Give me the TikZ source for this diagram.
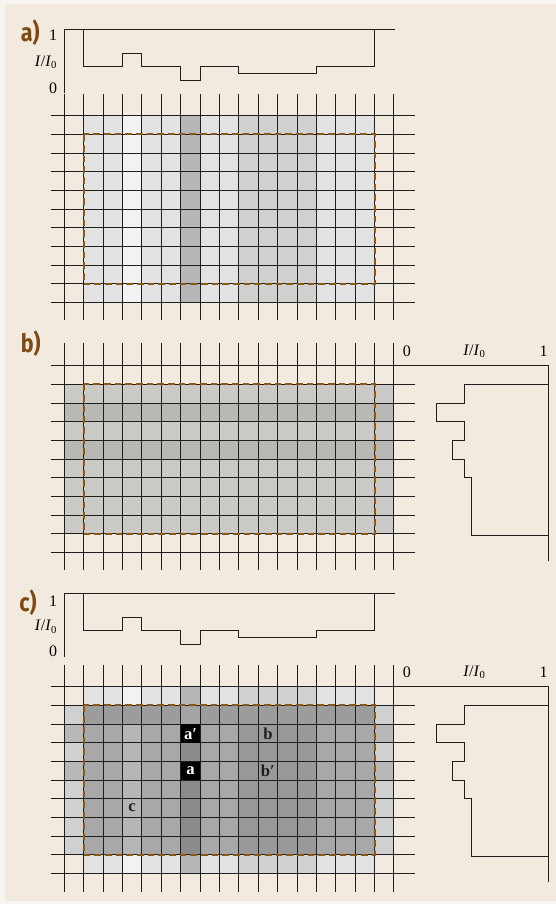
\documentclass[tikz,border=0pt]{standalone}
\usepackage{fontspec}
\setmainfont{Liberation Serif}
\newfontfamily\panelfont{Fira Sans}
\definecolor{paper}{HTML}{F2EADE}
\definecolor{rim}{HTML}{F8F5F0}
\definecolor{ink}{HTML}{1E1E1E}
\definecolor{rust}{HTML}{7D4A12}
\definecolor{dashbrown}{HTML}{8A5714}
% column absorption shades (panel a, top/bottom rows of c)
\definecolor{cE}{HTML}{E2E2E2}
\definecolor{cF}{HTML}{F2F2F2}
\definecolor{cB}{HTML}{B7B7B7}
\definecolor{cD}{HTML}{D0D1CF}
% row absorption shades (panel b)
\definecolor{bL}{HTML}{CBCAC7}
\definecolor{bD}{HTML}{B9B8B5}
% edge columns of panel c
\definecolor{eL}{HTML}{CFD1D0}
\definecolor{eD}{HTML}{B8B8B8}
% interior of panel c
\definecolor{iT}{HTML}{9B9C9B}
\definecolor{iE}{HTML}{A8A8A8}
\definecolor{iF}{HTML}{B5B5B5}
\definecolor{iB}{HTML}{8B8B8B}
\definecolor{iD}{HTML}{999999}
\begin{document}
\begin{tikzpicture}[x=0.75pt,y=-0.75pt,
  gridline/.style={draw=ink,line width=0.7pt},
  axisline/.style={draw=ink,line width=0.9pt},
  profline/.style={draw=ink,line width=0.75pt},
  dashframe/.style={draw=dashbrown,line width=1.5pt,dash pattern=on 5pt off 3pt},
  panel/.style={text=rust,font=\panelfont\bfseries\fontsize{19}{19}\selectfont,inner sep=0pt},
  axlabel/.style={font=\fontsize{12}{14}\selectfont,inner sep=0pt},
  celllabel/.style={font=\fontsize{12.5}{14}\selectfont\bfseries,inner sep=0pt,text=ink},
  blackcell/.style={fill=black,text=white,font=\fontsize{12.5}{14}\selectfont\bfseries,
    minimum width=19.39*0.75pt,minimum height=18.66*0.75pt,inner sep=0pt}]
\def\X#1{(64.3+19.39*(#1))}
% page
\fill[rim] (0,0) rectangle (556,904);
\fill[paper] (5,4) rectangle (556,901);
\useasboundingbox (0,0) rectangle (556,904);

% ---------------- panel a ----------------
\foreach \k/\c in {1/cE,2/cE,3/cF,4/cE,5/cE,6/cB,7/cE,8/cE,9/cD,10/cD,11/cD,12/cD,13/cE,14/cE,15/cE}
  \fill[\c] ({\X{\k}},115.7) rectangle ({\X{\k+1}},302.3);
\foreach \k in {0,...,17}
  \draw[gridline] ({\X{\k}},94) -- ({\X{\k}},320);
\foreach \j in {0,...,10}
  \draw[gridline] (50.7,{115.7+18.66*\j}) -- (415,{115.7+18.66*\j});
\draw[dashframe] ({\X{1}},{115.7+18.66}) rectangle ({\X{16}},{115.7+18.66*9});
% profile above a
\draw[axisline] (395,29.3) -- (64.3,29.3) -- (64.3,93.3);
\draw[profline] ({\X{1}},29.3) |- ({\X{3}},66) |- ({\X{4}},53.3) |- ({\X{6}},66)
  |- ({\X{7}},80.7) |- ({\X{9}},66) |- ({\X{13}},73.3) |- ({\X{16}},66) -- ({\X{16}},29.3);
\node[axlabel,anchor=base east] (a1) at (57.5,40.5) {1};
\node[axlabel,anchor=base east] (aI) at (57.5,66.5) {\textit{I}/\textit{I}\textsubscript{0}};
\node[axlabel,anchor=base east] (a0) at (57.5,93) {0};
\node[panel] (pa) at (30.3,32.5) {\scalebox{0.85}[1]{a)}};

% ---------------- panel b ----------------
\foreach \j/\c in {1/bL,2/bD,3/bL,4/bD,5/bL,6/bL,7/bL,8/bL}
  \fill[\c] ({\X{0}},{365.7+18.66*\j}) rectangle ({\X{17}},{365.7+18.66*(\j+1)});
\foreach \k in {0,...,17}
  \draw[gridline] ({\X{\k}},343.3) -- ({\X{\k}},570);
\foreach \j in {0,...,10}
  \draw[gridline] (50.7,{365.7+18.66*\j}) -- (415,{365.7+18.66*\j});
\draw[dashframe] ({\X{1}},{365.7+18.66}) rectangle ({\X{16}},{365.7+18.66*9});
% profile beside b
\draw[axisline] (404,365.7) -- (548.5,365.7) -- (548.5,560.7);
\draw[profline] (548.5,{365.7+18.66}) -| (464,{365.7+18.66*2}) -| (436.7,{365.7+18.66*3})
  -| (464,{365.7+18.66*4}) -| (452.7,{365.7+18.66*5}) -| (464,{365.7+18.66*6})
  -| (471.7,535.5) -- (548.5,535.5);
\node[axlabel,anchor=base west] (b0) at (402.5,356.5) {0};
\node[axlabel,anchor=base west] (bI) at (463,355.5) {\textit{I}/\textit{I}\textsubscript{0}};
\node[axlabel,anchor=base east] (b1) at (548,356.5) {1};
\node[panel] (pb) at (30.8,343.3) {\scalebox{0.85}[1]{b)}};

% ---------------- panel c ----------------
% top and bottom rows: column shades only
\foreach \k/\c in {1/cE,2/cE,3/cF,4/cE,5/cE,6/cB,7/cE,8/cE,9/cD,10/cD,11/cD,12/cD,13/cE,14/cE,15/cE}{
  \fill[\c] ({\X{\k}},686.7) rectangle ({\X{\k+1}},{686.7+18.66});
  \fill[\c] ({\X{\k}},{686.7+18.66*9}) rectangle ({\X{\k+1}},{686.7+18.66*10});
}
% edge columns: row shades only
\foreach \j/\c in {1/eL,2/eD,3/eL,4/eD,5/eL,6/eL,7/eL,8/eL}{
  \fill[\c] ({\X{0}},{686.7+18.66*\j}) rectangle ({\X{1}},{686.7+18.66*(\j+1)});
  \fill[\c] ({\X{16}},{686.7+18.66*\j}) rectangle ({\X{17}},{686.7+18.66*(\j+1)});
}
% interior
\fill[iT] ({\X{1}},{686.7+18.66}) rectangle ({\X{16}},{686.7+18.66*2});
\fill[iE!70!iT] ({\X{6}},{686.7+18.66}) rectangle ({\X{7}},{686.7+18.66*2});
\foreach \k/\c in {1/iE,2/iE,3/iF,4/iE,5/iE,6/iB,7/iE,8/iE,9/iD,10/iD,11/iD,12/iD,13/iE,14/iE,15/iE}
  \fill[\c] ({\X{\k}},{686.7+18.66*2}) rectangle ({\X{\k+1}},{686.7+18.66*9});
\foreach \k in {0,...,17}
  \draw[gridline] ({\X{\k}},665) -- ({\X{\k}},891.7);
\foreach \j in {0,...,10}
  \draw[gridline] (50.7,{686.7+18.66*\j}) -- (415,{686.7+18.66*\j});
\node[blackcell,anchor=north west] (ap) at ({\X{6}},{686.7+18.66*2}) {a′};
\node[blackcell,anchor=north west] (aa) at ({\X{6}},{686.7+18.66*4}) {a};
\node[celllabel] (bb) at ({\X{10.5}},{686.7+18.66*2.5}) {b};
\node[celllabel] (bp) at ({\X{10.5}},{686.7+18.66*4.5}) {b′};
\node[celllabel] (cc) at ({\X{3.5}},{686.7+18.66*6.5}) {c};
\draw[dashframe] ({\X{1}},{686.7+18.66}) rectangle ({\X{16}},{686.7+18.66*9});
% profile above c
\draw[axisline] (395,593.3) -- (64.3,593.3) -- (64.3,657.3);
\draw[profline] ({\X{1}},593.3) |- ({\X{3}},630) |- ({\X{4}},617.3) |- ({\X{6}},630)
  |- ({\X{7}},644.7) |- ({\X{9}},630) |- ({\X{13}},637.3) |- ({\X{16}},630) -- ({\X{16}},593.3);
\node[axlabel,anchor=base east] (c1) at (57.5,606.3) {1};
\node[axlabel,anchor=base east] (cI) at (57.5,630.7) {\textit{I}/\textit{I}\textsubscript{0}};
\node[axlabel,anchor=base east] (c0) at (57.5,656.7) {0};
\node[panel] (pc) at (28,603) {\scalebox{0.85}[1]{c)}};
% profile beside c
\draw[axisline] (404,686.7) -- (548.5,686.7) -- (548.5,881.7);
\draw[profline] (548.5,{686.7+18.66}) -| (464,{686.7+18.66*2}) -| (436.7,{686.7+18.66*3})
  -| (464,{686.7+18.66*4}) -| (452.7,{686.7+18.66*5}) -| (464,{686.7+18.66*6})
  -| (471.7,856.5) -- (548.5,856.5);
\node[axlabel,anchor=base west] (d0) at (402.5,677.5) {0};
\node[axlabel,anchor=base west] (dI) at (463,676.5) {\textit{I}/\textit{I}\textsubscript{0}};
\node[axlabel,anchor=base east] (d1) at (548,677.5) {1};
\end{tikzpicture}
\end{document}
